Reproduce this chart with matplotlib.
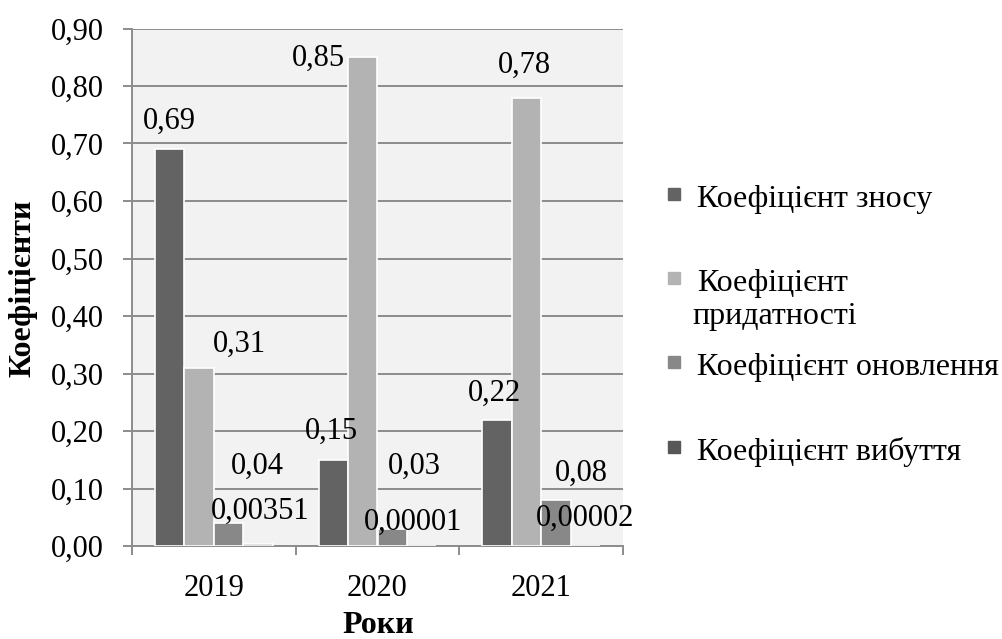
import matplotlib.pyplot as plt
import numpy as np
from matplotlib.patches import Rectangle
from matplotlib.ticker import FuncFormatter

plt.rcParams['font.family'] = ['Liberation Serif', 'DejaVu Serif']

years = ['2019', '2020', '2021']
names = ['Коефіцієнт зносу', 'Коефіцієнт придатності', 'Коефіцієнт оновлення', 'Коефіцієнт вибуття']
znosu = [0.69, 0.15, 0.22]
prydatnosti = [0.31, 0.85, 0.78]
onovlennia = [0.04, 0.03, 0.08]
vybuttia = [0.00351, 0.00001, 0.00002]

series = [znosu, prydatnosti, onovlennia, vybuttia]
digits = [2, 2, 2, 5]
colors = ['#636363', '#b3b3b3', '#888888', '#575757']
grid_col = '#8c8c8c'

# зсув підпису від верху стовпця (у пікселях)
shift = [
    [(0, 28), (-2, 28), (-3, 26)],
    [(40, 23), (-44, -1), (-2, 32)],
    [(29, 57), (22, 62), (25, 27)],
    [(2, 33), (-9, 24), (0, 28)],
]

W, H = 1002, 639
fig = plt.figure(figsize=(W / 100, H / 100), dpi=100)
ax = fig.add_axes([132 / W, 1 - 546 / H, 491 / W, 517.5 / H])
ax.set_facecolor('#f2f2f2')

x = np.arange(len(years))
bw = 0.18
for i, vals in enumerate(series):
    pos = x + (i - 1.5) * bw
    bars = ax.bar(pos, vals, bw, color=colors[i], edgecolor='white', linewidth=1.2, zorder=3)
    for j, b in enumerate(bars):
        txt = f"{vals[j]:.{digits[i]}f}".replace('.', ',')
        ax.annotate(txt, (b.get_x() + b.get_width() / 2, b.get_height()),
                    xytext=shift[i][j], textcoords='offset pixels',
                    ha='center', va='center', fontsize=22, zorder=5)

ax.set_xlim(-0.5, 2.5)
ax.set_ylim(0, 0.9)
ax.set_yticks(np.arange(0, 0.91, 0.1))
ax.yaxis.set_major_formatter(FuncFormatter(lambda v, p: f"{v:.2f}".replace('.', ',')))
ax.grid(axis='y', color=grid_col, linewidth=1.4, zorder=0)
ax.set_axisbelow(True)

ax.set_xticks(x)
ax.set_xticklabels(years)
ax.set_xticks([-0.5, 0.5, 1.5, 2.5], minor=True)
ax.tick_params(axis='x', which='major', length=0, pad=20, labelsize=22)
ax.tick_params(axis='x', which='minor', length=6.5, width=1.4, color=grid_col)
ax.tick_params(axis='y', length=6.5, width=1.4, color=grid_col, pad=14, labelsize=22)

for s in ['top', 'right']:
    ax.spines[s].set_visible(False)
for s in ['left', 'bottom']:
    ax.spines[s].set_color(grid_col)
    ax.spines[s].set_linewidth(1.4)

ax.set_xlabel('Роки', fontsize=23, fontweight='bold', va='center')
ax.xaxis.set_label_coords(0.501, -0.1527)
ax.set_ylabel('Коефіцієнти', fontsize=23, fontweight='bold', va='center')
ax.yaxis.set_label_coords(-0.222, 0.4986)

# легенда праворуч
legend_rows = [194, 278, 362, 447]
for i, yc in enumerate(legend_rows):
    fig.patches.append(Rectangle((668 / W, 1 - (yc + 6) / H), 12 / W, 12 / H,
                                 transform=fig.transFigure, color=colors[i]))
    words = names[i].split(' ')
    if i == 1:
        fig.text(697 / W, 1 - (yc + 13) / H, words[0], fontsize=23, va='baseline')
        fig.text(692 / W, 1 - (yc + 46) / H, words[1], fontsize=23, va='baseline')
    else:
        fig.text(697 / W, 1 - (yc + 13) / H, names[i], fontsize=23, va='baseline')

fig.savefig('out.png', dpi=100)
